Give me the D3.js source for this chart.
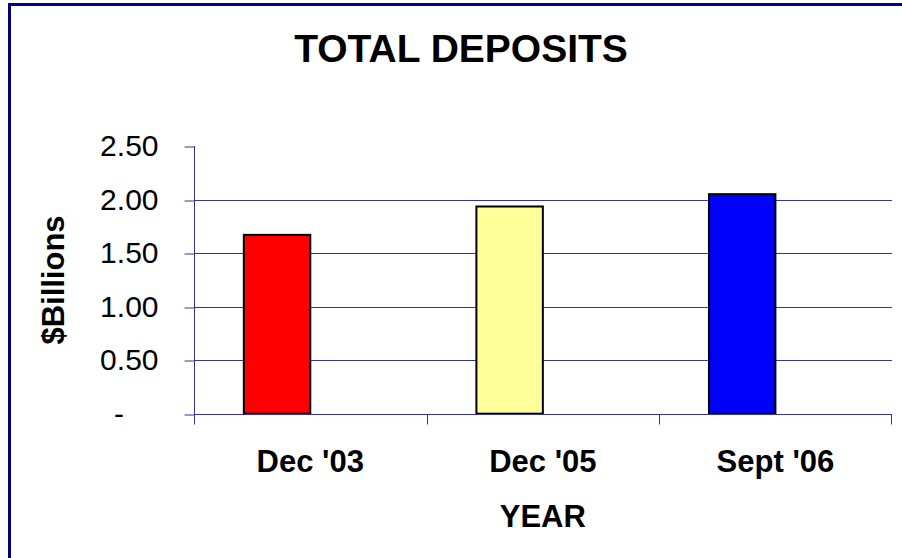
<!DOCTYPE html>
<html>
<head>
<meta charset="utf-8">
<script src="https://cdn.jsdelivr.net/npm/d3@7"></script>
<style>
  body { margin: 0; background: #fff; }
  svg { display: block; font-family: "Liberation Sans", Arial, sans-serif; }
  .axis path, .axis line { stroke: #333399; }
  .y.axis text { font-size: 30px; fill: #000; }
  .x.axis text { font-size: 31px; font-weight: bold; fill: #000; }
</style>
</head>
<body>
<div id="chart-area"></div>
<script>
// DATA
var categories = ["Dec '03", "Dec '05", "Sept '06"];
var deposits = [1.67, 1.935, 2.05];
var barColors = ["#ff0000", "#ffff99", "#0000ff"];
var yTicks = [0, 0.5, 1, 1.5, 2, 2.5];

var margin = { left: 194, right: 10, top: 146, bottom: 145 };
var width = 902 - margin.left - margin.right,
    height = 558 - margin.top - margin.bottom;

var svg = d3.select("#chart-area")
    .append("svg")
    .attr("width", 902)
    .attr("height", 558);

// outer border (only left and top show inside the window)
svg.append("rect")
    .attr("x", 9.5)
    .attr("y", 4.5)
    .attr("width", 1200)
    .attr("height", 1200)
    .attr("fill", "none")
    .attr("stroke", "#000080")
    .attr("stroke-width", 3);

var g = svg.append("g")
    .attr("transform", "translate(" + margin.left + ", " + margin.top + ")");

// X SCALE
var x = d3.scaleBand()
    .domain(categories)
    .range([0, width - 0.3])
    .padding(0);

// second (empty) series slot, like the original clustered column
var xSub = d3.scaleBand()
    .domain(["deposits", "blank"])
    .range([0, x.bandwidth()])
    .paddingInner(0)
    .paddingOuter(0.75);

// Y SCALE
var y = d3.scaleLinear()
    .domain([0, 2.5])
    .range([height + 0.7, 0]);

// GRIDLINES
g.append("g")
    .selectAll("line")
    .data(yTicks.filter(function (d) { return d > 0 && d < 2.5; }))
    .enter()
    .append("line")
    .attr("x1", 0)
    .attr("x2", width)
    .attr("y1", function (d) { return Math.round(y(d)) + 0.5; })
    .attr("y2", function (d) { return Math.round(y(d)) + 0.5; })
    .attr("stroke", "#333399")
    .attr("stroke-width", 1);

// BARS
g.selectAll("rect.bar")
    .data(deposits)
    .enter()
    .append("rect")
    .attr("class", "bar")
    .attr("x", function (d, i) { return x(categories[i]) + xSub("deposits"); })
    .attr("y", function (d) { return y(d); })
    .attr("width", xSub.bandwidth())
    .attr("height", function (d) { return y(0) - y(d); })
    .attr("fill", function (d, i) { return barColors[i]; })
    .attr("stroke", "#000")
    .attr("stroke-width", 2);

// Y AXIS
var yAxisCall = d3.axisLeft(y)
    .tickValues(yTicks)
    .tickSize(10)
    .tickPadding(26)
    .tickFormat(function (d) { return d === 0 ? "-" : d3.format(".2f")(d); });

var yAxisGroup = g.append("g")
    .attr("class", "y axis")
    .attr("transform", "translate(0.5,0)")
    .call(yAxisCall);
yAxisGroup.select(".domain").attr("d", "M0," + y(2.5) + "V" + (y(0) + 10));
yAxisGroup.selectAll(".tick line").attr("transform", function (d) {
    return "translate(0," + (Math.round(y(d)) + 0.5 - y(d)) + ")";
});
yAxisGroup.selectAll(".tick text")
    .filter(function (d) { return d === 0; })
    .attr("dx", "-1.15em");

// X AXIS
var xAxisGroup = g.append("g")
    .attr("class", "x axis")
    .attr("transform", "translate(0," + (Math.round(y(0)) + 0.5) + ")")
    .call(d3.axisBottom(x).tickSize(0).tickPadding(35));
xAxisGroup.select(".domain").attr("d", "M0,0H" + width);
xAxisGroup.selectAll(".boundary")
    .data(categories.concat([null]))
    .enter()
    .append("line")
    .attr("class", "boundary")
    .attr("x1", function (d, i) { return i < categories.length ? Math.round(x(d)) + 0.5 : width - 0.5; })
    .attr("x2", function (d, i) { return i < categories.length ? Math.round(x(d)) + 0.5 : width - 0.5; })
    .attr("y1", 0)
    .attr("y2", 10);

// TITLE
svg.append("text")
    .attr("x", 461)
    .attr("y", 61.5)
    .attr("text-anchor", "middle")
    .attr("font-size", "39px")
    .attr("font-weight", "bold")
    .text("TOTAL DEPOSITS");

// X LABEL
g.append("text")
    .attr("x", x(categories[1]) + x.bandwidth() / 2)
    .attr("y", 527 - margin.top)
    .attr("text-anchor", "middle")
    .attr("font-size", "31px")
    .attr("font-weight", "bold")
    .text("YEAR");

// Y LABEL
svg.append("text")
    .attr("transform", "translate(64,280) rotate(-90)")
    .attr("text-anchor", "middle")
    .attr("font-size", "31px")
    .attr("font-weight", "bold")
    .text("$Billions");
</script>
</body>
</html>
